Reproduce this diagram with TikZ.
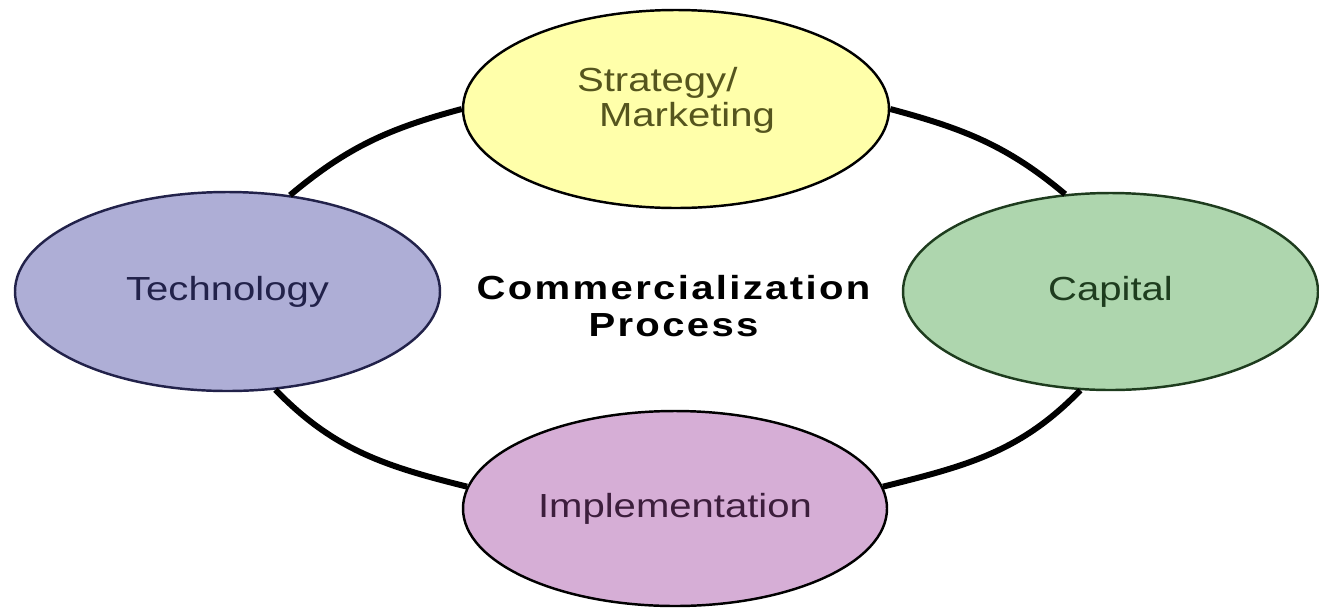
\documentclass[tikz,border=0pt]{standalone}
\usepackage{fontspec}
\setmainfont{Liberation Sans}[FakeStretch=1.2]
\newfontfamily\titlefont{Liberation Sans}[FakeStretch=1.2,LetterSpace=7]
\usetikzlibrary{shapes.geometric}
\definecolor{stratfill}{HTML}{FFFFAA}
\definecolor{stratink}{HTML}{55551E}
\definecolor{techfill}{HTML}{AEAED6}
\definecolor{techink}{HTML}{22224A}
\definecolor{capfill}{HTML}{AED6AE}
\definecolor{capink}{HTML}{1E3C1E}
\definecolor{implfill}{HTML}{D6AED6}
\definecolor{implink}{HTML}{3C1E3C}
\tikzset{
  blob/.style={draw,ellipse,line width=0.7pt,inner sep=0pt,font=\fontsize{9.5}{10}\selectfont},
  ring/.style={line width=1.7pt}
}

\begin{document}
\begin{tikzpicture}
  \useasboundingbox (0,0) rectangle (13.19,6.08);
  \node[blob,fill=stratfill,text=stratink,minimum width=4.26cm,minimum height=1.98cm,align=left,text depth=0.24cm]
    (strat) at (6.76,4.99) {Strategy/\\\hspace*{0.22cm}Marketing};
  \node[blob,fill=techfill,draw=techink,text=techink,minimum width=4.25cm,minimum height=1.99cm]
    (tech) at (2.275,3.165) {Technology};
  \node[blob,fill=capfill,draw=capink,text=capink,minimum width=4.15cm,minimum height=1.97cm]
    (cap) at (11.105,3.165) {Capital};
  \node[blob,fill=implfill,text=implink,minimum width=4.24cm,minimum height=1.95cm]
    (impl) at (6.75,0.995) {Implementation};
  \node[align=center,font=\titlefont\bfseries\fontsize{9.5}{10.5}\selectfont]
    (title) at (6.735,3.02) {Commercialization\\Process};
  \draw[ring] (strat.west) to[out=195,in=40] (tech.57);
  \draw[ring] (strat.east) to[out=-15,in=140] (cap.115);
  \draw[ring] (tech.-64) to[out=-46,in=166] (impl.174);
  \draw[ring] (impl.6) to[out=14,in=226] (cap.253);
\end{tikzpicture}
\end{document}
